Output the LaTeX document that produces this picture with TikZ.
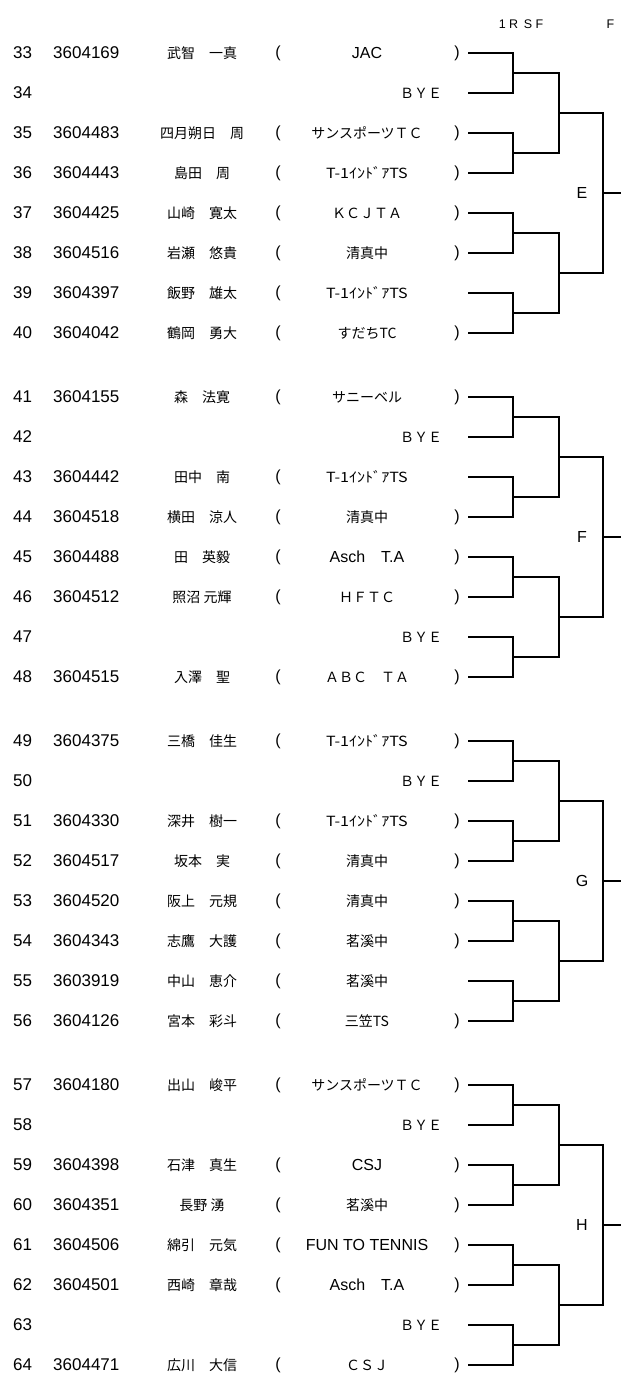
\documentclass[tikz,border=0pt]{standalone}
\usepackage{fontspec}
\setmainfont{Liberation Sans}
\newfontfamily\jp{Noto Sans CJK JP}
\newfontfamily\jpwide[FakeStretch=1.15]{Noto Sans CJK JP}
\newcommand\clublat{\rmfamily\fontsize{16}{16}\selectfont}
\newcommand\tone{{\jpwide T-1ｲﾝﾄﾞｱTS}}

\tikzset{
  numtext/.style={font=\fontsize{17}{17}\selectfont, inner sep=0pt},
  jptext/.style={font=\jp\fontsize{14}{14}\selectfont, inner sep=0pt},
  partext/.style={font=\fontsize{16}{16}\selectfont, inner sep=0pt},
  blocklabel/.style={font=\fontsize{16}{16}\selectfont, inner sep=0pt},
  headtext/.style={font=\fontsize{12.5}{12.5}\selectfont, inner sep=0pt},
  bracket/.style={line width=2pt}
}

\begin{document}
\begin{tikzpicture}[x=1pt,y=-1pt]
\useasboundingbox (0,0) rectangle (621,1377);

\node[headtext] (hR) at (508.5,24) {1 R};
\node[headtext] (hSF) at (533.5,24) {S F};
\node[headtext] (hF) at (610.5,24) {F};

% players
\foreach \n/\id/\nm/\cl/\cp in {
  33/3604169/武智　一真/\clublat JAC/1,
  35/3604483/四月朔日　周/サンスポーツＴＣ/1,
  36/3604443/島田　周/\tone/1,
  37/3604425/山崎　寛太/ＫＣＪＴＡ/1,
  38/3604516/岩瀬　悠貴/清真中/1,
  39/3604397/飯野　雄太/\tone/0,
  40/3604042/鶴岡　勇大/すだちTC/1,
  41/3604155/森　法寛/サニーベル/1,
  43/3604442/田中　南/\tone/0,
  44/3604518/横田　涼人/清真中/1,
  45/3604488/田　英毅/\clublat Asch\quad T.A/1,
  46/3604512/照沼 元輝/ＨＦＴＣ/1,
  48/3604515/入澤　聖/ＡＢＣ　ＴＡ/1,
  49/3604375/三橋　佳生/\tone/1,
  51/3604330/深井　樹一/\tone/1,
  52/3604517/坂本　実/清真中/1,
  53/3604520/阪上　元規/清真中/1,
  54/3604343/志鷹　大護/茗溪中/1,
  55/3603919/中山　恵介/茗溪中/0,
  56/3604126/宮本　彩斗/三笠TS/1,
  57/3604180/出山　峻平/サンスポーツＴＣ/1,
  59/3604398/石津　真生/\clublat CSJ/1,
  60/3604351/長野 湧/茗溪中/1,
  61/3604506/綿引　元気/\clublat FUN TO TENNIS/1,
  62/3604501/西崎　章哉/\clublat Asch\quad T.A/1,
  64/3604471/広川　大信/ＣＳＪ/1}{
  \pgfmathtruncatemacro\gr{(\n-33)/8}
  \pgfmathsetmacro\yy{53+344*\gr+40*(\n-33-8*\gr)}
  \node[numtext,anchor=west] (num\n) at (13,\yy) {\n};
  \node[numtext,anchor=west] (id\n) at (53,\yy) {\id};
  \node[jptext] (nm\n) at (202,\yy) {\nm};
  \node[partext] (lp\n) at (278,\yy) {(};
  \node[jptext] (cl\n) at (367,\yy) {\cl};
  \ifnum\cp=1 \node[partext] (rp\n) at (457,\yy) {)};\fi
  \coordinate (p\n) at (468,\yy);
}

% byes
\foreach \n in {34,42,47,50,58,63}{
  \pgfmathtruncatemacro\gr{(\n-33)/8}
  \pgfmathsetmacro\yy{53+344*\gr+40*(\n-33-8*\gr)}
  \node[numtext,anchor=west] (num\n) at (13,\yy) {\n};
  \node[jptext] (bye\n) at (421,\yy) {ＢＹＥ};
  \coordinate (p\n) at (468,\yy);
}

% brackets
\foreach \g/\lab in {0/E,1/F,2/G,3/H}{
  \pgfmathsetmacro\yb{53+344*\g}
  \foreach \k in {0,...,3}{
    \pgfmathtruncatemacro\a{33+8*\g+2*\k}
    \pgfmathtruncatemacro\b{\a+1}
    \coordinate (q\a) at (513,{\yb+40*(2*\k+0.5)});
    \draw[bracket] (p\a) -| (q\a) |- (p\b);
  }
  \foreach \k in {0,1}{
    \pgfmathtruncatemacro\a{33+8*\g+4*\k}
    \pgfmathtruncatemacro\b{\a+2}
    \coordinate (s\a) at (559,{\yb+40*(4*\k+1.5)});
    \draw[bracket] (q\a) -| (s\a) |- (q\b);
  }
  \pgfmathtruncatemacro\a{33+8*\g}
  \pgfmathtruncatemacro\b{\a+4}
  \coordinate (f\a) at (603,{\yb+40*3.5});
  \coordinate (o\a) at (621,{\yb+40*3.5});
  \draw[bracket] (s\a) -| (f\a) |- (s\b);
  \draw[bracket] (f\a) -- (o\a);
  \node[blocklabel] (blk\lab) at (582,{\yb+40*3.5}) {\lab};
}
\end{tikzpicture}
\end{document}
